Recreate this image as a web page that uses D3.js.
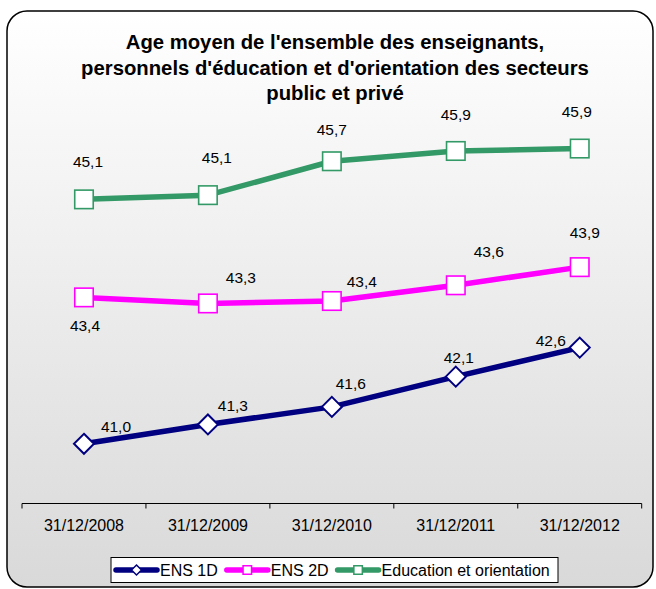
<!DOCTYPE html>
<html>
<head>
<meta charset="utf-8">
<script src="https://cdn.jsdelivr.net/npm/d3@7"></script>
<style>
  html, body { margin: 0; padding: 0; background: #ffffff; }
  svg { display: block; font-family: "Liberation Sans", Arial, sans-serif; }
</style>
</head>
<body>
<svg id="chart" width="656" height="589"></svg>
<script>
// ---- data ----
const categories = ["31/12/2008", "31/12/2009", "31/12/2010", "31/12/2011", "31/12/2012"];
const seriesNames = ["ENS 1D", "ENS 2D", "Education et orientation"];
const ens1D = [41.02, 41.34, 41.63, 42.13, 42.61];
const ens2D = [43.44, 43.34, 43.38, 43.64, 43.94];
const eduOrient = [45.06, 45.13, 45.69, 45.86, 45.90];
const titleLines = [
  "Age moyen de l'ensemble des enseignants,",
  "personnels d'éducation et d'orientation des secteurs",
  "public et privé"
];

// ---- layout / style (not data) ----
const colors = ["#000080", "#FF00FF", "#339966"];
const markerTypes = ["diamond", "square", "square"];
// data label offsets relative to marker (as placed in the original)
const labelOffsets = [
  [[32, -17], [25, -19], [19, -23], [3, -19], [-29, -7]],
  [[1, 28], [33, -26], [30, -19], [33, -34], [5, -35]],
  [[4, -38], [9, -38], [0, -32], [0, -36], [-3, -37]]
];

const svg = d3.select("#chart");

// background gradient
const defs = svg.append("defs");
const grad = defs.append("linearGradient").attr("id", "bg")
  .attr("x1", 0).attr("y1", 0).attr("x2", 0).attr("y2", 1);
grad.append("stop").attr("offset", "0%").attr("stop-color", "#ffffff");
grad.append("stop").attr("offset", "100%").attr("stop-color", "#d9d9d9");

svg.append("rect")
  .attr("x", 7).attr("y", 11).attr("width", 646).attr("height", 576)
  .attr("rx", 20).attr("ry", 20)
  .attr("fill", "url(#bg)").attr("stroke", "#000").attr("stroke-width", 1.5);

// title
const title = svg.append("text")
  .attr("text-anchor", "middle")
  .attr("font-weight", "bold")
  .attr("font-size", 20.3)
  .attr("fill", "#000");
titleLines.forEach((t, i) => {
  title.append("tspan").attr("x", 335).attr("y", 49 + i * 25.5).text(t);
});

// scales
const x = d3.scaleBand().domain(categories).range([22, 641.7]);
const y = d3.scaleLinear().domain([40, 47]).range([505.5, 82]);
const cx = c => x(c) + x.bandwidth() / 2;

// x axis
const xAxis = d3.axisBottom(x).tickSize(0).tickPadding(16);
const axisG = svg.append("g").attr("transform", "translate(0,503.5)").call(xAxis);
axisG.select(".domain").remove();
axisG.selectAll("text").attr("font-size", 16).attr("fill", "#000")
  .attr("font-family", "Liberation Sans, Arial, sans-serif");
axisG.append("line").attr("x1", 22).attr("x2", 641.7).attr("y1", 0).attr("y2", 0)
  .attr("stroke", "#000").attr("stroke-width", 1);
const bounds = categories.map(c => x(c)).concat([x(categories[categories.length - 1]) + x.bandwidth()]);
axisG.selectAll("line.tick-b").data(bounds).join("line").attr("class", "tick-b")
  .attr("x1", d => d).attr("x2", d => d).attr("y1", 0).attr("y2", 5)
  .attr("stroke", "#000").attr("stroke-width", 1);

// series
const allSeries = [ens1D, ens2D, eduOrient];
const line = d3.line().x((d, i) => cx(categories[i])).y(d => y(d));
const fmt = v => d3.format(".1f")(v).replace(".", ",");

function drawMarker(g, type, color, px, py, size, sw) {
  if (type === "diamond") {
    const h = size / 2;
    g.append("path")
      .attr("d", `M${px},${py - h}L${px + h},${py}L${px},${py + h}L${px - h},${py}Z`)
      .attr("fill", "#fff").attr("stroke", color).attr("stroke-width", sw);
  } else {
    g.append("rect")
      .attr("x", px - size / 2).attr("y", py - size / 2)
      .attr("width", size).attr("height", size)
      .attr("fill", "#fff").attr("stroke", color).attr("stroke-width", sw);
  }
}

allSeries.forEach((vals, si) => {
  const g = svg.append("g");
  g.append("path").datum(vals)
    .attr("d", line).attr("fill", "none")
    .attr("stroke", colors[si]).attr("stroke-width", 5.5)
    .attr("stroke-linejoin", "round");
  vals.forEach((v, i) => {
    const px = cx(categories[i]), py = y(v);
    if (markerTypes[si] === "diamond") drawMarker(g, "diamond", colors[si], px, py, 20, 2);
    else drawMarker(g, "square", colors[si], px, py, 18.5, 1.6);
  });
  vals.forEach((v, i) => {
    const px = cx(categories[i]), py = y(v);
    const [dx, dy] = labelOffsets[si][i];
    g.append("text")
      .attr("x", px + dx).attr("y", py + dy)
      .attr("dy", "0.35em").attr("text-anchor", "middle")
      .attr("font-size", 15.5).attr("fill", "#000")
      .text(fmt(v));
  });
});

// legend
const lg = svg.append("g");
lg.append("rect").attr("x", 111).attr("y", 557.5).attr("width", 447).attr("height", 25)
  .attr("fill", "#fff").attr("stroke", "#000").attr("stroke-width", 1);
let lx = 114;
const ly = 570;
seriesNames.forEach((name, si) => {
  lg.append("line").attr("x1", lx + 2).attr("x2", lx + 43).attr("y1", ly).attr("y2", ly)
    .attr("stroke", colors[si]).attr("stroke-width", 5.5).attr("stroke-linecap", "round");
  drawMarker(lg, markerTypes[si], colors[si], lx + 22.5, ly, markerTypes[si] === "diamond" ? 10 : 8.5, 1.5);
  const t = lg.append("text").attr("x", lx + 46).attr("y", ly).attr("dy", "0.36em")
    .attr("font-size", 16).attr("fill", "#000").text(name);
  lx = lx + 46 + t.node().getComputedTextLength() + 7;
});
</script>
</body>
</html>
